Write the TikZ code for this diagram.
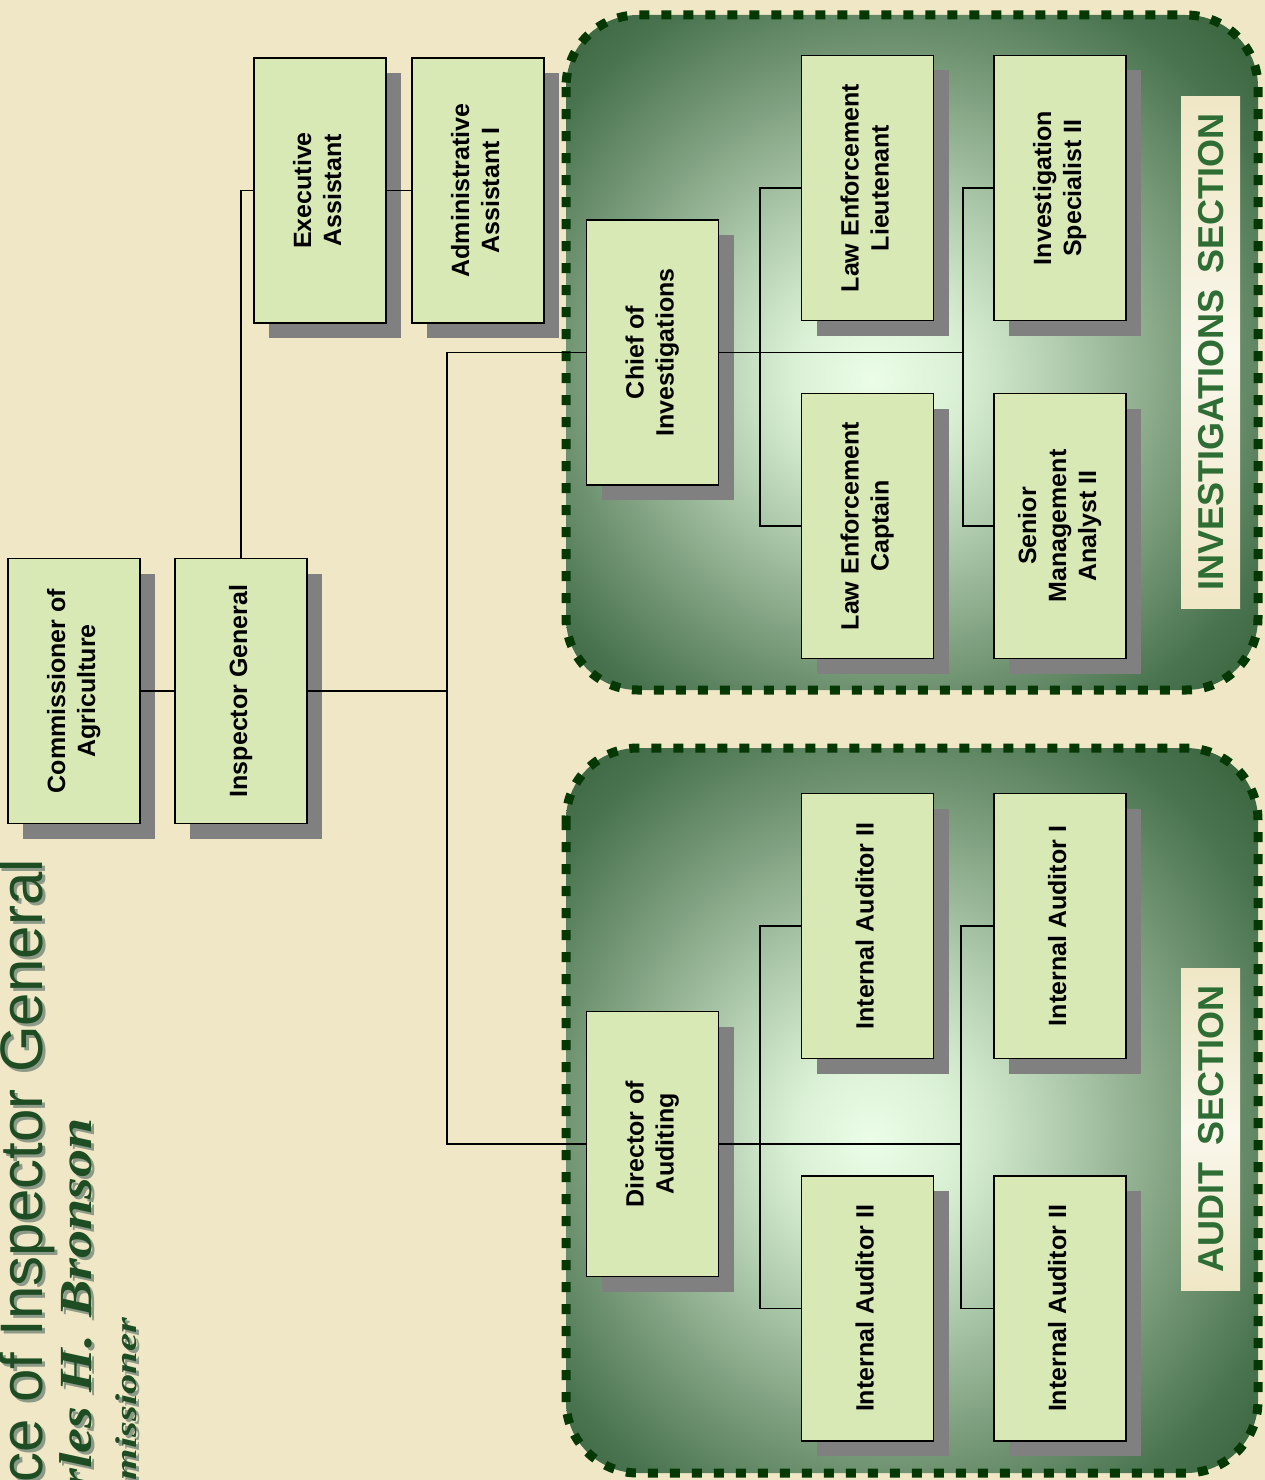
\documentclass[tikz,border=0pt]{standalone}
\usepackage{fontspec}
\setmainfont{Liberation Sans}
\newfontfamily\scriptf{Liberation Serif}
\usetikzlibrary{shadows}
\definecolor{bg}{HTML}{EFE7C5}
\definecolor{boxfill}{HTML}{D9E9B5}
\definecolor{shadowgray}{HTML}{808080}
\definecolor{borderg}{HTML}{053805}
\definecolor{labelg}{HTML}{2E6E35}
\definecolor{titleg}{HTML}{1E4D24}
\definecolor{titlesh}{HTML}{8D9A88}
\definecolor{sc0}{HTML}{EBFDE7}
\definecolor{sc1}{HTML}{DAF0D5}
\definecolor{sc2}{HTML}{ABC7A9}
\definecolor{sc3}{HTML}{7A9C7B}
\definecolor{sc4}{HTML}{4A7450}
\definecolor{sc5}{HTML}{2F5C33}
\definecolor{labelmid}{HTML}{FAF7EC}
\pgfdeclareradialshading{sect}{\pgfpoint{-3bp}{-2bp}}{color(0bp)=(sc0); color(6bp)=(sc1); color(14bp)=(sc2); color(22bp)=(sc3); color(30bp)=(sc4); color(38bp)=(sc5); color(50bp)=(sc5)}
\tikzset{
  orgbox/.style={draw=black, line width=1.6pt, fill=boxfill, minimum width=132pt,
    minimum height=265pt, inner sep=0pt,
    font=\bfseries\fontsize{25}{30}\selectfont,
    drop shadow={shadow xshift=15pt, shadow yshift=-15pt, fill=shadowgray, opacity=1}},
  conn/.style={draw=black, line width=1.8pt},
  region/.style={draw=borderg, line width=9pt, dash pattern=on 10pt off 12pt, rounded corners=72pt},
  labelbox/.style={top color=bg, bottom color=bg, middle color=labelmid, draw=none},
  labeltext/.style={rotate=90, inner sep=0pt, text=labelg, font=\bfseries\fontsize{36}{40}\selectfont}
}
\newcommand{\vtext}[1]{\rotatebox{90}{\begin{tabular}{@{}c@{}}#1\end{tabular}}}
\begin{document}
\begin{tikzpicture}[x=1pt,y=1pt]
\useasboundingbox (0,0) rectangle (1265,-1480);
\clip (0,0) rectangle (1265,-1480);
\fill[bg] (0,0) rectangle (1265,-1480);

% title
\node[rotate=90, anchor=base east, inner sep=0pt, text=titlesh, font=\fontsize{60}{66}\selectfont] (titlesh) at (45,-862) {Office of Inspector General};
\node[rotate=90, anchor=base east, inner sep=0pt, text=titleg, font=\fontsize{60}{66}\selectfont] (title) at (42,-859) {Office of Inspector General};
\node[rotate=90, anchor=base east, inner sep=0pt, text=titlesh, font=\scriptf\bfseries\itshape\fontsize{46}{52}\selectfont] (namesh) at (94,-1121) {\scalebox{1.22}[1]{Charles H.\hspace{0.3em}Bronson}};
\node[rotate=90, anchor=base east, inner sep=0pt, text=titleg, font=\scriptf\bfseries\itshape\fontsize{46}{52}\selectfont] (name) at (91,-1118) {\scalebox{1.22}[1]{Charles H.\hspace{0.3em}Bronson}};
\node[rotate=90, anchor=base east, inner sep=0pt, text=titlesh, font=\scriptf\bfseries\itshape\fontsize{30}{34}\selectfont] (commsh) at (139,-1321) {\scalebox{1.35}[1]{Commissioner}};
\node[rotate=90, anchor=base east, inner sep=0pt, text=titleg, font=\scriptf\bfseries\itshape\fontsize{30}{34}\selectfont] (commt) at (136,-1318) {\scalebox{1.35}[1]{Commissioner}};

% section regions
\shade[shading=sect, rounded corners=72pt] (566,-15) rectangle (1258,-690);
\draw[region] (566,-15) rectangle (1258,-690);
\shade[shading=sect, rounded corners=72pt] (566,-748) rectangle (1258,-1473);
\draw[region] (566,-748) rectangle (1258,-1473);

% section labels
\shade[labelbox] (1181,-96) rectangle (1240,-608);
\node[labeltext] (invlabel) at (1211,-352) {INVESTIGATIONS\hspace{0.45em}SECTION};
\shade[labelbox] (1181,-968) rectangle (1240,-1290);
\node[labeltext] (audlabel) at (1211,-1129) {AUDIT\hspace{0.45em}SECTION};

% boxes
\node[orgbox] (comm) at (74,-691) {\vtext{Commissioner of\\Agriculture}};
\node[orgbox] (ig) at (241,-691) {\vtext{Inspector General}};
\node[orgbox] (ea) at (320,-190.5) {\vtext{Executive\\Assistant}};
\node[orgbox] (aa) at (478,-190.5) {\vtext{Administrative\\Assistant I}};
\node[orgbox] (chief) at (652.5,-352.5) {\vtext{Chief of\\Investigations}};
\node[orgbox] (lel) at (867.5,-188) {\vtext{Law Enforcement\\Lieutenant}};
\node[orgbox] (isii) at (1060,-188) {\vtext{Investigation\\Specialist II}};
\node[orgbox] (lec) at (867.5,-526) {\vtext{Law Enforcement\\Captain}};
\node[orgbox] (sma) at (1060,-526) {\vtext{Senior\\Management\\Analyst II}};
\node[orgbox] (dir) at (652.5,-1144) {\vtext{Director of\\Auditing}};
\node[orgbox] (iaa) at (867.5,-926) {\vtext{Internal Auditor II}};
\node[orgbox] (iab) at (1060,-926) {\vtext{Internal Auditor I}};
\node[orgbox] (iac) at (867.5,-1308.5) {\vtext{Internal Auditor II}};
\node[orgbox] (iad) at (1060,-1308.5) {\vtext{Internal Auditor II}};

% junctions
\coordinate (trunk) at (447,-691);
\coordinate (bi1) at (760,-352.5);
\coordinate (bi2) at (963,-352.5);
\coordinate (ba1) at (760,-1144);
\coordinate (ba2) at (961,-1144);

% connectors
\draw[conn] (comm.east) -- (ig.west);
\draw[conn] (ig.north) |- (ea.west);
\draw[conn] (ea.east) -- (aa.west);
\draw[conn] (ig.east) -- (trunk);
\draw[conn] (chief.west) -| (trunk);
\draw[conn] (dir.west) -| (trunk);
\draw[conn] (chief.east) -- (bi2);
\draw[conn] (lel.west) -| (bi1) |- (lec.west);
\draw[conn] (isii.west) -| (bi2) |- (sma.west);
\draw[conn] (dir.east) -- (ba2);
\draw[conn] (iaa.west) -| (ba1) |- (iac.west);
\draw[conn] (iab.west) -| (ba2) |- (iad.west);
\end{tikzpicture}
\end{document}
